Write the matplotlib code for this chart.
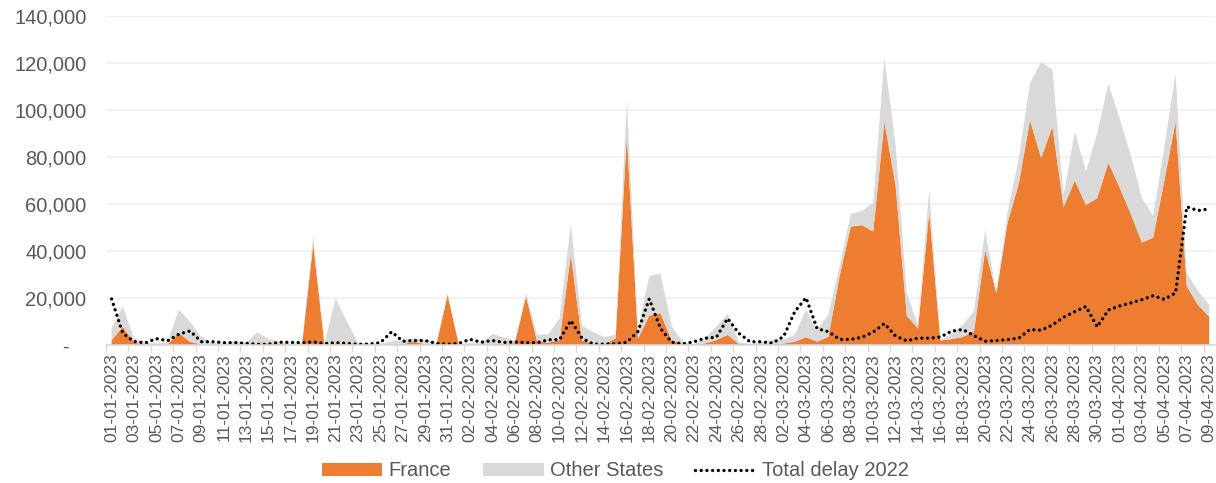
import matplotlib
matplotlib.use("Agg")
import matplotlib.pyplot as plt
from matplotlib.ticker import FixedLocator, FuncFormatter
import numpy as np
import pandas as pd

plt.rcParams['font.family'] = ['Liberation Sans', 'DejaVu Sans']

# daily delay, 01-01-2023 .. 09-04-2023
days = pd.date_range("2023-01-01", "2023-04-09", freq="D").strftime("%d-%m-%Y").tolist()

france = [
    2.0, 7.8, 1.0, 0.2, 0.1, 0.3, 5.0, 1.4, 0.2, 0.1,
    0.1, 0.1, 0.2, 0.6, 0.7, 0.5, 0.1, 0.2, 42.9, 0.2,
    0.7, 0.5, 0.1, 0.1, 0.1, 0.3, 0.4, 1.4, 0.3, 0.2,
    21.3, 0.2, 0.3, 0.4, 0.3, 0.5, 0.8, 20.6, 1.4, 1.0,
    2.1, 38.5, 2.0, 0.4, 0.4, 2.8, 89.3, 2.6, 12.5, 13.6,
    2.1, 0.5, 0.1, 0.7, 2.1, 4.3, 0.5, 0.1, 0.3, 0.2,
    0.6, 1.4, 3.3, 1.4, 3.5, 29.3, 50.4, 51.0, 48.3, 95.0,
    67.9, 12.4, 7.0, 56.4, 1.9, 2.5, 3.4, 5.8, 40.5, 22.1,
    52.1, 68.6, 95.7, 79.6, 92.9, 58.6, 70.0, 59.6, 62.4, 77.6,
    67.1, 55.7, 43.6, 45.7, 70.0, 95.0, 25.0, 17.0, 12.0,
]

other_states = [
    5.1, 8.6, 1.8, 0.8, 0.5, 1.1, 10.0, 8.6, 3.3, 0.7,
    0.7, 1.6, 0.8, 4.8, 1.9, 0.8, 0.5, 0.6, 3.5, 0.3,
    19.3, 9.5, 0.9, 0.5, 0.5, 1.2, 1.6, 1.5, 1.9, 0.4,
    0.7, 0.3, 0.5, 0.6, 4.4, 2.8, 1.1, 1.4, 2.9, 3.6,
    9.3, 12.9, 6.2, 5.1, 2.9, 1.6, 14.7, 3.9, 16.8, 16.8,
    5.9, 0.9, 0.3, 2.2, 5.8, 9.0, 0.7, 0.3, 0.9, 2.2,
    1.8, 2.9, 11.7, 5.0, 9.4, 4.3, 5.3, 6.1, 12.1, 27.0,
    17.1, 9.7, 1.5, 9.3, 0.1, 2.3, 5.1, 8.7, 8.3, 0.3,
    4.3, 10.7, 15.7, 40.8, 24.2, 4.9, 20.7, 14.3, 27.6, 33.4,
    29.3, 25.0, 18.8, 9.3, 14.3, 20.7, 5.5, 6.0, 5.0,
]

total_2022 = [
    19.6, 4.9, 1.5, 0.9, 2.7, 1.8, 4.6, 6.0, 1.4, 1.4,
    1.0, 1.0, 0.7, 0.3, 0.3, 1.2, 1.1, 1.0, 1.3, 0.6,
    1.0, 0.7, 0.3, 0.4, 1.0, 5.6, 1.6, 1.9, 1.9, 0.7,
    0.3, 0.7, 2.4, 1.2, 1.9, 1.1, 1.3, 1.0, 1.0, 2.2,
    2.3, 10.4, 2.9, 0.4, 0.4, 0.5, 1.2, 5.8, 19.6, 7.1,
    1.2, 0.5, 1.4, 2.9, 3.3, 11.3, 5.0, 1.4, 1.4, 0.8,
    3.6, 14.2, 20.1, 6.9, 5.7, 2.4, 2.4, 3.3, 5.5, 9.1,
    3.8, 1.8, 2.9, 2.9, 3.4, 5.9, 6.6, 4.0, 1.6, 1.9,
    2.3, 2.9, 6.6, 6.3, 8.5, 11.8, 14.2, 16.4, 7.7, 14.9,
    16.6, 17.9, 19.3, 21.0, 19.4, 22.2, 58.8, 57.2, 57.9,
]

france = np.array(france) * 1000
other_states = np.array(other_states) * 1000
total_2022 = np.array(total_2022) * 1000
x = np.arange(len(days))

ORANGE = "#ED7D31"
GREY = "#D9D9D9"
TEXT = "#595959"

fig = plt.figure(figsize=(12.16, 4.83), dpi=100)
ax = fig.add_axes([0.0872, 0.2857, 0.9118, 0.6813])

ax.stackplot(x, france, other_states, colors=[ORANGE, GREY],
             labels=["France", "Other States"], linewidth=0)
ax.plot(x, total_2022, color="black", linewidth=2.4,
        linestyle=(0, (0.01, 1.7)), dash_capstyle="round",
        label="Total delay 2022")

ax.set_xlim(-0.5, len(days) - 0.5)
ax.set_ylim(0, 140000)
ax.set_yticks(np.arange(0, 140001, 20000))
ax.yaxis.set_major_formatter(FuncFormatter(
    lambda v, p: "-   " if v == 0 else f"{int(v):,}"))
ax.grid(axis="y", color="#EFEFEF", linewidth=1.2)
ax.set_axisbelow(True)

# tick marks between categories, labels on every other day
ax.xaxis.set_major_locator(FixedLocator(np.arange(-0.5, len(days) - 1, 2)))
ax.xaxis.set_major_formatter(FuncFormatter(lambda v, p: ""))
ax.xaxis.set_minor_locator(FixedLocator(x[::2]))
ax.set_xticklabels(days[::2], minor=True, rotation=90)
ax.tick_params(axis="x", which="major", length=5, color=GREY, width=1)
ax.tick_params(axis="x", which="minor", length=0, pad=6,
               labelsize=12.5, labelcolor=TEXT)
ax.tick_params(axis="y", length=0, pad=14, labelsize=14.5, labelcolor=TEXT)

for s in ["top", "right", "left"]:
    ax.spines[s].set_visible(False)
ax.spines["bottom"].set_color(GREY)
ax.spines["bottom"].set_linewidth(1.2)

fig.legend(*ax.get_legend_handles_labels(), loc="center",
           bbox_to_anchor=(0.506, 0.025), ncol=3, frameon=False,
           fontsize=14.5, labelcolor=TEXT, handlelength=3.0, handleheight=0.65,
           columnspacing=1.6, handletextpad=0.3, borderpad=0)

fig.savefig("out.png", dpi=100)
